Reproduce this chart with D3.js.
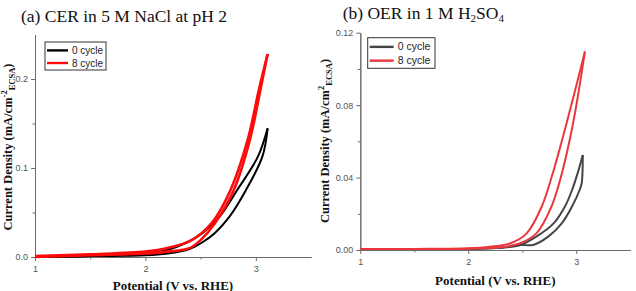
<!DOCTYPE html>
<html>
<head>
  <meta charset="utf-8">
  <title>CER / OER cycles</title>
  <script src="https://cdn.jsdelivr.net/npm/d3@7/dist/d3.min.js"></script>
  <style>
    body { margin: 0; background: #fff; }
    .tick text { font-family: "Liberation Sans", Arial, sans-serif; }
  </style>
</head>
<body>
  <svg width="636" height="291" id="mainsvg"></svg>
  <script>
    // ---- data ----
    // panel (a) CER, potential V vs RHE and current density
    const cer0FwdV = [1.0, 1.5, 2.0, 2.2, 2.4, 2.51, 2.63, 2.76, 2.91, 3.06, 3.107];
    const cer0FwdJ = [0.0, 0.001, 0.002, 0.004, 0.009, 0.016, 0.027, 0.045, 0.075, 0.113, 0.1446];
    const cer0RevV = [3.107, 3.02, 2.83, 2.67, 2.52, 2.37, 2.2, 2.0, 1.5, 1.0];
    const cer0RevJ = [0.1446, 0.113, 0.075, 0.045, 0.027, 0.016, 0.008, 0.004, 0.001, 0.0];
    const cer8FwdV = [1.0, 1.5, 2.0, 2.2, 2.4, 2.5, 2.63, 2.8, 2.945, 3.045, 3.107];
    const cer8FwdJ = [0.0, 0.002, 0.004, 0.006, 0.010, 0.019, 0.038, 0.075, 0.131, 0.19, 0.228];
    const cer8RevV = [3.107, 3.032, 2.925, 2.77, 2.6, 2.42, 2.2, 2.0, 1.5, 1.0];
    const cer8RevJ = [0.228, 0.19, 0.131, 0.075, 0.038, 0.019, 0.010, 0.006, 0.003, 0.001];

    // panel (b) OER
    const oer0FwdV = [1.0, 1.5, 2.0, 2.3, 2.48, 2.60, 2.74, 2.865, 2.96, 3.03, 3.05, 3.06];
    const oer0FwdJ = [0.0005, 0.0005, 0.0006, 0.0012, 0.0028, 0.0028, 0.0074, 0.0147, 0.024, 0.033, 0.037, 0.0525];
    const oer0RevV = [3.06, 3.01, 2.96, 2.895, 2.79, 2.63, 2.48, 2.3, 2.0, 1.5, 1.0];
    const oer0RevJ = [0.0525, 0.042, 0.033, 0.024, 0.0147, 0.0074, 0.0028, 0.0012, 0.0006, 0.0005, 0.0005];
    const oer8FwdV = [1.0, 1.5, 2.0, 2.3, 2.48, 2.63, 2.77, 2.865, 2.97, 3.08];
    const oer8FwdJ = [0.0005, 0.0005, 0.0007, 0.0015, 0.0037, 0.0092, 0.024, 0.042, 0.070, 0.1096];
    const oer8RevV = [3.08, 2.91, 2.78, 2.68, 2.54, 2.39, 2.2, 2.0, 1.5, 1.0];
    const oer8RevJ = [0.1096, 0.070, 0.042, 0.024, 0.0092, 0.0037, 0.0018, 0.0009, 0.0006, 0.0005];

    const xTicks = [1, 2, 3];
    const xMinor = [1.5, 2.5];
    const cerYTicks = [0.0, 0.1, 0.2];
    const cerYMinor = [0.05, 0.15];
    const oerYTicks = [0.00, 0.04, 0.08, 0.12];
    const oerYMinor = [0.02, 0.06, 0.10];
    const seriesNames = ['0 cycle', '8 cycle'];

    const svg = d3.select('#mainsvg');

    const zip = (vs, js) => vs.map((v, i) => ({ v: v, j: js[i] }));

    function drawPanel(p) {
      const g = svg.append('g');
      const x = d3.scaleLinear().domain([1, 3.5]).range([p.left, p.right]);
      const y = d3.scaleLinear().domain(p.yDomain).range([p.bottom, p.top]);

      // axes
      const xAxis = g.append('g').attr('transform', `translate(0,${p.bottom})`)
        .call(d3.axisBottom(x).tickValues(xTicks).tickFormat(d3.format('d')).tickSize(4).tickSizeOuter(0));
      g.append('g').attr('transform', `translate(0,${p.bottom})`)
        .call(d3.axisBottom(x).tickValues(xMinor).tickFormat('').tickSize(2.5).tickSizeOuter(0));
      g.append('g').attr('transform', `translate(${p.left},0)`)
        .call(d3.axisLeft(y).tickValues(p.yTicks).tickFormat(d3.format(p.yFmt)).tickSize(4).tickSizeOuter(0));
      g.append('g').attr('transform', `translate(${p.left},0)`)
        .call(d3.axisLeft(y).tickValues(p.yMinor).tickFormat('').tickSize(2.5).tickSizeOuter(0));
      g.selectAll('.domain, .tick line').attr('stroke', '#6a6a6a');
      g.selectAll('.tick text').attr('fill', '#555').attr('font-size', 9);
      xAxis.selectAll('.tick text').attr('dy', '0.9em');

      // curves
      const line = d3.line().x(d => x(d.v)).y(d => y(d.j)).curve(d3.curveCatmullRom.alpha(0.5));
      p.series.forEach(s => {
        [s.fwd, s.rev].forEach(branch => {
          g.append('path').datum(branch)
            .attr('fill', 'none')
            .attr('stroke', s.color)
            .attr('stroke-width', s.width)
            .attr('stroke-linejoin', 'round')
            .attr('d', line);
        });
      });

      // legend
      const lg = g.append('g');
      lg.append('rect')
        .attr('x', p.legend.x).attr('y', p.legend.y)
        .attr('width', p.legend.w).attr('height', p.legend.h)
        .attr('fill', '#fff').attr('stroke', '#333').attr('stroke-width', 1);
      p.series.forEach((s, i) => {
        const ly = p.legend.y + p.legend.h * (0.3 + 0.45 * i);
        lg.append('line')
          .attr('x1', p.legend.x + 2).attr('x2', p.legend.x + p.legend.line)
          .attr('y1', ly).attr('y2', ly)
          .attr('stroke', s.color).attr('stroke-width', 2.4);
        lg.append('text')
          .attr('x', p.legend.x + p.legend.line + 4).attr('y', ly + 3.5)
          .attr('font-family', '"Liberation Sans", Arial, sans-serif')
          .attr('font-size', p.legend.fs).attr('fill', '#222')
          .text(seriesNames[i]);
      });

      // title
      const t = g.append('text')
        .attr('x', p.title.x).attr('y', p.title.y)
        .attr('font-family', '"Liberation Serif", "Times New Roman", serif')
        .attr('font-size', 17.5).attr('fill', '#111');
      p.title.parts.forEach(part => {
        const ts = t.append('tspan').text(part.t);
        if (part.sub) ts.attr('font-size', 11).attr('dy', 3);
        if (part.back) ts.attr('dy', -3);
      });

      // axis titles
      g.append('text')
        .attr('x', (p.left + p.right) / 2 + p.xLabelShift).attr('y', p.xLabelY)
        .attr('text-anchor', 'middle')
        .attr('font-family', '"Liberation Serif", "Times New Roman", serif')
        .attr('font-weight', 'bold').attr('font-size', 13).attr('fill', '#111')
        .text('Potential (V vs. RHE)');

      const yl = g.append('text')
        .attr('transform', `translate(${p.yLabelX},${p.yLabelY}) rotate(-90)`)
        .attr('text-anchor', 'middle')
        .attr('font-family', '"Liberation Serif", "Times New Roman", serif')
        .attr('font-weight', 'bold').attr('font-size', 12.5).attr('fill', '#111');
      yl.append('tspan').text('Current Density (mA/cm');
      yl.append('tspan').text(p.sup).attr('font-size', 8.5).attr('dy', -5);
      yl.append('tspan').text('ECSA').attr('font-size', 8.5).attr('dy', 8);
      yl.append('tspan').text(')').attr('dy', -3);
    }

    drawPanel({
      left: 35, right: 311, top: 34.5, bottom: 257,
      yDomain: [0, 0.25], yTicks: cerYTicks, yMinor: cerYMinor, yFmt: '.1f',
      series: [
        { fwd: zip(cer0FwdV, cer0FwdJ), rev: zip(cer0RevV, cer0RevJ), color: '#000000', width: 2 },
        { fwd: zip(cer8FwdV, cer8FwdJ), rev: zip(cer8RevV, cer8RevJ), color: '#ff0a0a', width: 2.6 }
      ],
      legend: { x: 45, y: 42, w: 61, h: 28, line: 23, fs: 10 },
      title: { x: 21, y: 22, parts: [{ t: '(a) CER in 5 M NaCl at pH 2' }] },
      xLabelY: 289.5, xLabelShift: 0,
      yLabelX: 12, yLabelY: 147, sup: '-2'
    });

    drawPanel({
      left: 360.3, right: 630.3, top: 32.7, bottom: 250,
      yDomain: [0, 0.12], yTicks: oerYTicks, yMinor: oerYMinor, yFmt: '.2f',
      series: [
        { fwd: zip(oer0FwdV, oer0FwdJ), rev: zip(oer0RevV, oer0RevJ), color: '#454545', width: 2 },
        { fwd: zip(oer8FwdV, oer8FwdJ), rev: zip(oer8RevV, oer8RevJ), color: '#e8383e', width: 2 }
      ],
      legend: { x: 367.7, y: 37.7, w: 67.3, h: 30.6, line: 26, fs: 10.5 },
      title: { x: 342.7, y: 19, parts: [
        { t: '(b) OER in 1 M H' }, { t: '2', sub: true }, { t: 'SO', back: true }, { t: '4', sub: true }
      ] },
      xLabelY: 285, xLabelShift: 0,
      yLabelX: 329, yLabelY: 141, sup: '2'
    });
  </script>
</body>
</html>
